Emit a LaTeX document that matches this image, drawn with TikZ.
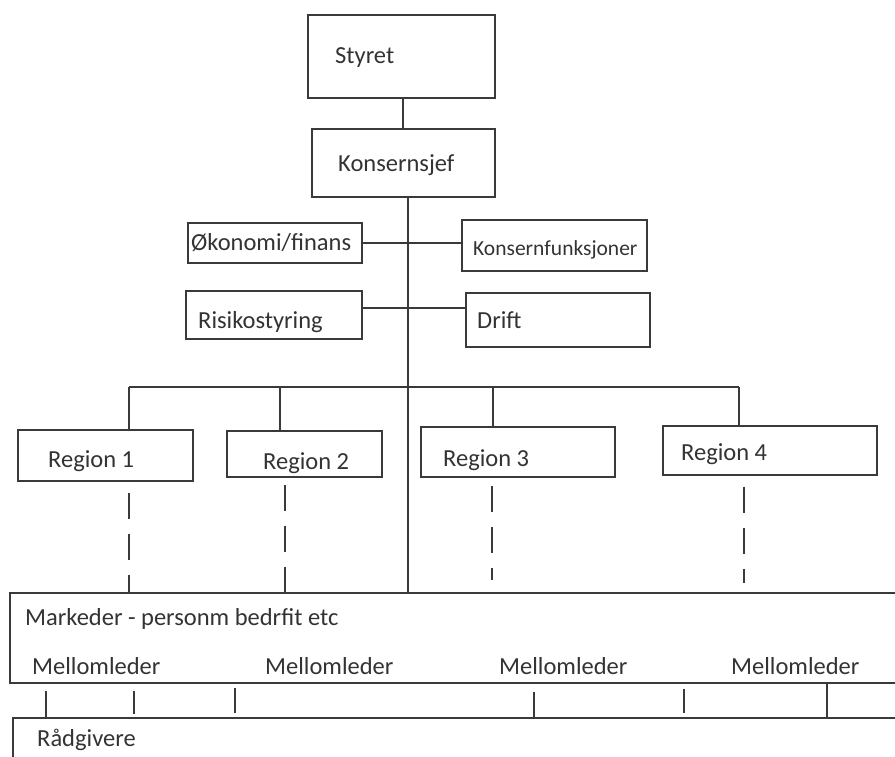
\documentclass[tikz,border=0pt]{standalone}
\usepackage{fontspec}
\setmainfont{Carlito}
\usetikzlibrary{positioning,calc}
\definecolor{linegray}{HTML}{3A3A3A}
\definecolor{txtgray}{HTML}{333333}
\tikzset{
	box/.style={draw=linegray, line width=1.4pt, rectangle, inner sep=0pt},
	lbl/.style={inner sep=0pt, text=txtgray, font=\fontsize{24.5}{29}\selectfont},
	conn/.style={draw=linegray, line width=1.3pt},
	dashline/.style={conn, dash pattern=on 26pt off 15pt}
}
\begin{document}
\begin{tikzpicture}[x=1pt,y=-1pt]
	\clip (0,0) rectangle (895,756);
	% top
	\node[box, minimum width=187, minimum height=83] (styret) at (401.5,56.5) {};
	\node[box, minimum width=183, minimum height=68] (konsern) at (403.5,163) {};
	\node[lbl, anchor=base west] (styret-t) at (335,63) {Styret};
	\node[lbl, anchor=base west] (konsern-t) at (338,171) {Konsernsjef};
	% staff
	\node[box, minimum width=174, minimum height=40] (okonomi) at (275,243) {};
	\node[box, minimum width=185, minimum height=51] (funksj) at (554.5,245.5) {};
	\node[box, minimum width=176, minimum height=48] (risiko) at (274,315) {};
	\node[box, minimum width=184, minimum height=54] (drift) at (558,320) {};
	\node[lbl, anchor=base west] (okonomi-t) at (191,250) {Økonomi/finans};
	\node[lbl, anchor=base west, font=\fontsize{21.5}{26}\selectfont] (funksj-t) at (473,255) {Konsernfunksjoner};
	\node[lbl, anchor=base west] (risiko-t) at (198,328) {Risikostyring};
	\node[lbl, anchor=base west] (drift-t) at (477,328) {Drift};
	% regions
	\node[box, minimum width=175, minimum height=51] (reg1) at (105.5,455.5) {};
	\node[box, minimum width=155, minimum height=46] (reg2) at (304.5,454) {};
	\node[box, minimum width=194, minimum height=50] (reg3) at (518,452) {};
	\node[box, minimum width=214, minimum height=49] (reg4) at (770,450.5) {};
	\node[lbl, anchor=base west] (reg1-t) at (48,467) {Region 1};
	\node[lbl, anchor=base west] (reg2-t) at (263,469) {Region 2};
	\node[lbl, anchor=base west] (reg3-t) at (443,466) {Region 3};
	\node[lbl, anchor=base west] (reg4-t) at (681,460) {Region 4};
	% markets and advisers
	\node[box, minimum width=900, minimum height=90] (marked) at (460,638) {};
	\node[box, minimum width=900, minimum height=80] (raad) at (463,758) {};
	\node[lbl, anchor=base west] (marked-t) at (25,625) {Markeder - personm bedrfit etc};
	\node[lbl, anchor=base west] (mell1) at (32,674) {Mellomleder};
	\node[lbl, anchor=base west] (mell2) at (265,674) {Mellomleder};
	\node[lbl, anchor=base west] (mell3) at (499,674) {Mellomleder};
	\node[lbl, anchor=base west] (mell4) at (731,674) {Mellomleder};
	\node[lbl, anchor=base west] (raad-t) at (37,746) {Rådgivere};
	% connectors
	\coordinate (trunk) at (408,300);
	\draw[conn] (styret.south -| 403,0) -- (konsern.north -| 403,0);
	\draw[conn] (konsern.south -| trunk) -- (trunk |- marked.north);
	\draw[conn] (okonomi.east) -- (okonomi.east -| funksj.west);
	\draw[conn] ($(risiko.east)+(0,-7)$) -- ($(risiko.east -| drift.west)+(0,-7)$);
	\coordinate (bus1) at (129,387);
	\coordinate (bus2) at (280,387);
	\coordinate (bus3) at (493,387);
	\coordinate (bus4) at (739,387);
	\draw[conn] (bus1) -- (bus4);
	\draw[conn] (bus1) -- (bus1 |- reg1.north);
	\draw[conn] (bus2) -- (bus2 |- reg2.north);
	\draw[conn] (bus3) -- (bus3 |- reg3.north);
	\draw[conn] (bus4) -- (bus4 |- reg4.north);
	% dashed links
	\coordinate (d1) at (129,500);
	\coordinate (d2) at (285,500);
	\coordinate (d3) at (492,580);
	\coordinate (d4) at (744,583);
	\draw[dashline] ($(reg1.south -| d1)+(0,11)$) -- (d1 |- marked.north);
	\draw[dashline] ($(reg2.south -| d2)+(0,7)$) -- (d2 |- marked.north);
	\draw[dashline] ($(reg3.south -| d3)+(0,8)$) -- (d3);
	\draw[dashline] ($(reg4.south -| d4)+(0,11)$) -- (d4);
	% ticks
	\coordinate (t1) at (46,700);
	\coordinate (t2) at (134,700);
	\coordinate (t3) at (235,700);
	\coordinate (t4) at (534,700);
	\coordinate (t5) at (684,700);
	\coordinate (t6) at (827,700);
	\draw[conn] ($(t1 |- marked.south)+(0,7)$) -- (t1 |- raad.north);
	\draw[conn] ($(t2 |- marked.south)+(0,7)$) -- ($(t2 |- raad.north)+(0,-3)$);
	\draw[conn] ($(t3 |- marked.south)+(0,4)$) -- ($(t3 |- raad.north)+(0,-4)$);
	\draw[conn] ($(t4 |- marked.south)+(0,8)$) -- (t4 |- raad.north);
	\draw[conn] ($(t5 |- marked.south)+(0,5)$) -- ($(t5 |- raad.north)+(0,-4)$);
	\draw[conn] (t6 |- marked.south) -- (t6 |- raad.north);
\end{tikzpicture}
\end{document}
